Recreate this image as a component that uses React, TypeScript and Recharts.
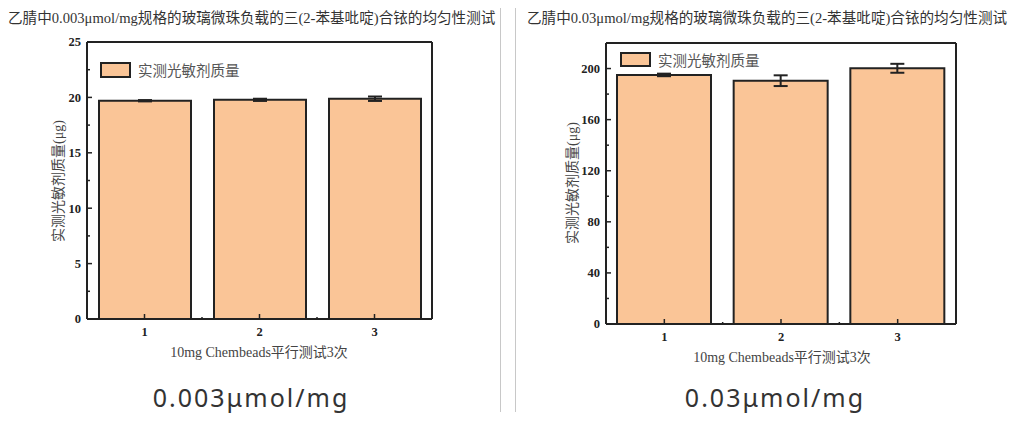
import React from 'react'
import { BarChart, Bar, XAxis, YAxis, ErrorBar, Legend } from 'recharts'

// runs on the x axis, measured photosensitizer mass (μg) with error
const runs = [1, 2, 3]
const lowMass = [19.7, 19.78, 19.88]
const lowErr = [0.06, 0.1, 0.2]
const highMass = [195, 190.5, 200.2]
const highErr = [1, 4.2, 3.5]

const xTicks = [1, 1.5, 2, 2.5, 3]
const lowMajor = [0, 5, 10, 15, 20, 25]
const lowTicks = [0, 2.5, 5, 7.5, 10, 12.5, 15, 17.5, 20, 22.5, 25]
const highMajor = [0, 40, 80, 120, 160, 200]
const highTicks = [0, 20, 40, 60, 80, 100, 120, 140, 160, 180, 200]

const lowTitle = '乙腈中0.003μmol/mg规格的玻璃微珠负载的三(2-苯基吡啶)合铱的均匀性测试'
const highTitle = '乙腈中0.03μmol/mg规格的玻璃微珠负载的三(2-苯基吡啶)合铱的均匀性测试'
const seriesName = '实测光敏剂质量'
const yLabel = '实测光敏剂质量(μg)'
const xLabel = '10mg Chembeads平行测试3次'

const lowData = runs.map((r, i) => ({ run: r, mass: lowMass[i], err: lowErr[i] }))
const highData = runs.map((r, i) => ({ run: r, mass: highMass[i], err: highErr[i] }))

const serif = '"Liberation Serif", "Noto Sans CJK SC", serif'
const ink = '#222'
const peach = '#fac597'

function YTick(props: any) {
  const { x, y, payload, majors } = props
  const major = majors.includes(payload.value)
  return (
    <g>
      <line x1={x} x2={x + (major ? 5 : 3)} y1={y} y2={y} stroke={ink} strokeWidth={1.5} />
      {major && (
        <text x={x - 6} y={y} dy="0.35em" textAnchor="end" fontSize={12.5} fontWeight={700}
          fontFamily={serif} fill={ink}>
          {payload.value}
        </text>
      )}
    </g>
  )
}

function XTick(props: any) {
  const { x, y, payload } = props
  const major = Number.isInteger(payload.value)
  return (
    <g>
      <line x1={x} x2={x} y1={y} y2={y - (major ? 5 : 2)} stroke={ink} strokeWidth={1.5} />
      {major && (
        <text x={x} y={y + 17} textAnchor="middle" fontSize={12.5} fontWeight={700}
          fontFamily={serif} fill={ink}>
          {payload.value}
        </text>
      )}
    </g>
  )
}

function LegendBox({ boxH }: { boxH: number }) {
  return (
    <div style={{ display: 'flex', alignItems: 'center', gap: 7 }}>
      <div style={{ width: 27, height: boxH, background: peach, border: `2px solid ${ink}` }} />
      <span style={{ fontSize: 14.5, color: '#555', fontFamily: serif }}>{seriesName}</span>
    </div>
  )
}

interface PanelProps {
  left: number
  data: { run: number; mass: number; err: number }[]
  margin: { top: number; right: number; bottom: number; left: number }
  domain: [number, number]
  ticks: number[]
  majors: number[]
  barSize: number
  legendPos: { left: number; top: number }
  legendBoxH: number
}

function Panel({ left, data, margin, domain, ticks, majors, barSize, legendPos, legendBoxH }: PanelProps) {
  return (
    <div style={{ position: 'absolute', left, top: 0, width: 512, height: 426 }}>
      <BarChart width={512} height={426} data={data} margin={margin}>
        <XAxis
          dataKey="run"
          type="number"
          domain={[0.5, 3.5]}
          ticks={xTicks}
          interval={0}
          allowDataOverflow
          height={30}
          tickSize={0}
          tickMargin={0}
          tickLine={false}
          axisLine={{ stroke: ink, strokeWidth: 2 }}
          tick={(p: any) => <XTick {...p} />}
        />
        <XAxis
          xAxisId="top"
          orientation="top"
          type="number"
          domain={[0, 1]}
          height={1}
          tick={false}
          tickLine={false}
          axisLine={{ stroke: ink, strokeWidth: 2 }}
        />
        <YAxis
          type="number"
          domain={domain}
          ticks={ticks}
          interval={0}
          allowDataOverflow
          width={40}
          tickSize={0}
          tickMargin={0}
          tickLine={false}
          axisLine={{ stroke: ink, strokeWidth: 2 }}
          tick={(p: any) => <YTick {...p} majors={majors} />}
        />
        <YAxis
          yAxisId="right"
          orientation="right"
          type="number"
          domain={[0, 1]}
          width={1}
          tick={false}
          tickLine={false}
          axisLine={{ stroke: ink, strokeWidth: 2 }}
        />
        <Legend
          layout="horizontal"
          verticalAlign="middle"
          align="center"
          wrapperStyle={{ position: 'absolute', left: legendPos.left, top: legendPos.top, width: 'auto' }}
          content={() => <LegendBox boxH={legendBoxH} />}
        />
        <Bar dataKey="mass" name={seriesName} barSize={barSize} fill={peach} stroke={ink}
          strokeWidth={2} isAnimationActive={false}>
          <ErrorBar dataKey="err" direction="y" width={7} stroke={ink} strokeWidth={2} />
        </Bar>
      </BarChart>
    </div>
  )
}

const textBase: React.CSSProperties = { position: 'absolute', whiteSpace: 'nowrap', lineHeight: 1 }
const caption: React.CSSProperties = {
  ...textBase, top: 397, fontSize: 25, letterSpacing: 2, color: '#333',
  fontFamily: '"Noto Sans", sans-serif', transform: 'translate(-50%, -50%)',
}

export default function App() {
  return (
    <div style={{ position: 'absolute', left: 0, top: 0, width: 1024, height: 426, background: '#fff',
      fontFamily: serif, overflow: 'hidden' }}>
      {/* titles */}
      <div style={{ ...textBase, left: 8, top: 11, fontSize: 14.6, color: '#333' }}>{lowTitle}</div>
      <div style={{ ...textBase, left: 527, top: 11, fontSize: 14.6, color: '#333' }}>{highTitle}</div>

      {/* dividers */}
      <div style={{ position: 'absolute', left: 500, top: 8, width: 1, height: 404, background: '#c8c8c8' }} />
      <div style={{ position: 'absolute', left: 515, top: 8, width: 1, height: 404, background: '#c8c8c8' }} />

      <Panel
        left={0}
        data={lowData}
        margin={{ top: 41, right: 79, bottom: 77, left: 47 }}
        domain={[0, 25]}
        ticks={lowTicks}
        majors={lowMajor}
        barSize={92}
        legendPos={{ left: 100, top: 59 }}
        legendBoxH={12}
      />
      <Panel
        left={512}
        data={highData}
        margin={{ top: 42, right: 67, bottom: 72, left: 54 }}
        domain={[0, 220]}
        ticks={highTicks}
        majors={highMajor}
        barSize={94}
        legendPos={{ left: 108, top: 49 }}
        legendBoxH={11}
      />

      {/* axis labels */}
      <div style={{ ...textBase, left: 59, top: 181, fontSize: 14, color: '#444',
        transform: 'translate(-50%, -50%) rotate(-90deg)' }}>{yLabel}</div>
      <div style={{ ...textBase, left: 573, top: 183, fontSize: 14, color: '#444',
        transform: 'translate(-50%, -50%) rotate(-90deg)' }}>{yLabel}</div>
      <div style={{ ...textBase, left: 259, top: 353, fontSize: 14, color: '#444',
        transform: 'translate(-50%, -50%)' }}>{xLabel}</div>
      <div style={{ ...textBase, left: 782, top: 358, fontSize: 14, color: '#444',
        transform: 'translate(-50%, -50%)' }}>{xLabel}</div>

      {/* captions */}
      <div style={{ ...caption, left: 251 }}>0.003μmol/mg</div>
      <div style={{ ...caption, left: 775 }}>0.03μmol/mg</div>
    </div>
  )
}
